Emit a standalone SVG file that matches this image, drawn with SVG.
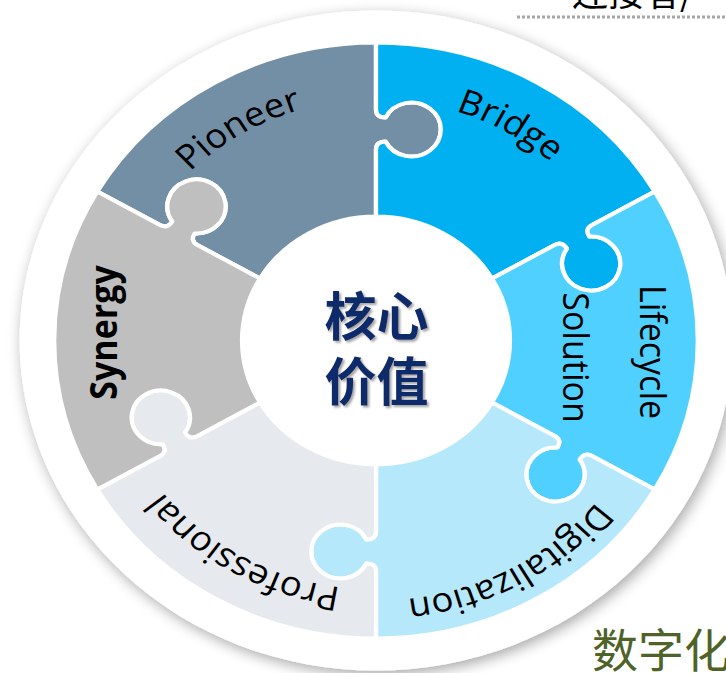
<svg xmlns="http://www.w3.org/2000/svg" xmlns:xlink="http://www.w3.org/1999/xlink" width="726" height="673" viewBox="0 0 726 673">
<defs>
<style>
.lbl{font-family:"Open Sans","Noto Sans","DejaVu Sans",sans-serif;font-size:34px;fill:#000}
.bold{font-weight:bold}
.cjk{font-family:"Noto Sans CJK SC","Noto Sans CJK JP",sans-serif}
.piece{stroke:#fff;stroke-width:4;stroke-linejoin:round}
</style>
<filter id="sh" x="-20%" y="-20%" width="140%" height="140%">
<feGaussianBlur in="SourceAlpha" stdDeviation="7"/>
<feOffset dx="3" dy="4" result="b"/>
<feComponentTransfer><feFuncA type="linear" slope="0.35"/></feComponentTransfer>
<feMerge><feMergeNode/><feMergeNode in="SourceGraphic"/></feMerge>
</filter>
<filter id="tsh" x="-20%" y="-20%" width="140%" height="140%">
<feDropShadow dx="2" dy="2" stdDeviation="1" flood-color="#7f7f7f" flood-opacity="0.7"/>
</filter>
<path id="piece" d="M107.39,-62 L165.41,-95.5 Q172.34,-99.5 176.74,-91.88 A27,27 0 1 0 197.52,-103.88 Q193.12,-111.5 200.05,-115.5 L258.07,-149 A298,298 0 0 1 258.07,149 L200.05,115.5 Q193.12,111.5 188.72,119.12 A27,27 0 1 1 167.94,107.12 Q172.34,99.5 165.41,95.5 L107.39,62 A124,124 0 0 0 107.39,-62 Z"/>
<path id="pPioneer" d="M-236.6,46 A241,241 0 0 1 151.7,-187.3"/>
<path id="pBridge" d="M-154.9,-184.6 A241,241 0 0 1 237.3,41.8"/>
<path id="pDigital" d="M256.8,-40.7 A260,260 0 0 1 -170.6,196.2"/>
<path id="pProf" d="M160.1,190.7 A249,249 0 0 1 -245.2,-43.2"/>
</defs>
<rect width="726" height="673" fill="#fff"/>
<g id="header">
<text class="cjk" x="572" y="6" font-size="36" fill="#000">连接者/</text>
<line x1="517" y1="17" x2="726" y2="17" stroke="#a6a6a6" stroke-width="3" stroke-dasharray="3 2"/>
</g>
<g id="wheel" transform="translate(376,340.5) scale(1.08,1)">
<circle r="330" fill="#fff" filter="url(#sh)"/>
<g id="pioneer">
<use xlink:href="#piece" class="piece" transform="rotate(-120)" fill="#728fa6"/>
<text class="lbl"><textPath xlink:href="#pPioneer" startOffset="50%" text-anchor="middle">Pioneer</textPath></text>
</g>
<g id="bridge">
<use xlink:href="#piece" class="piece" transform="rotate(-60)" fill="#00b0f0"/>
<text class="lbl"><textPath xlink:href="#pBridge" startOffset="50%" text-anchor="middle">Bridge</textPath></text>
</g>
<g id="lifecycle">
<use xlink:href="#piece" class="piece" fill="#50d0ff"/>
<text class="lbl" text-anchor="middle" transform="translate(173,17) rotate(90)">Solution</text>
<text class="lbl" text-anchor="middle" transform="translate(244,11.5) rotate(90)">Lifecycle</text>
</g>
<g id="digitalization">
<use xlink:href="#piece" class="piece" transform="rotate(60)" fill="#b6e8fc"/>
<text class="lbl"><textPath xlink:href="#pDigital" startOffset="50%" text-anchor="middle">Digitalization</textPath></text>
</g>
<g id="professional">
<use xlink:href="#piece" class="piece" transform="rotate(120)" fill="#e6e9ed"/>
<text class="lbl"><textPath xlink:href="#pProf" startOffset="50%" text-anchor="middle">Professional</textPath></text>
</g>
<g id="synergy">
<use xlink:href="#piece" class="piece" transform="rotate(180)" fill="#bfbfbf"/>
<text class="lbl bold" text-anchor="middle" transform="translate(-240,-8) rotate(-90)">Synergy</text>
</g>
</g>
<g id="core" filter="url(#tsh)">
<text class="cjk" x="376.5" y="336" font-size="52" font-weight="bold" fill="#0d2a6b" text-anchor="middle">核心</text>
<text class="cjk" x="376.5" y="401" font-size="52" font-weight="bold" fill="#0d2a6b" text-anchor="middle">价值</text>
</g>
<g id="footer">
<text class="cjk" x="592" y="667" font-size="46" fill="#4f6228">数字化</text>
</g>
<g id="connectors"/>
</svg>
